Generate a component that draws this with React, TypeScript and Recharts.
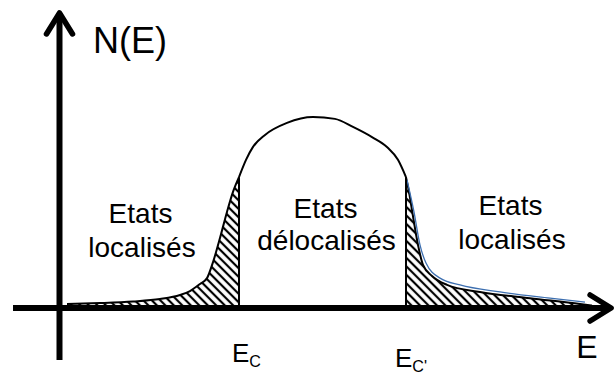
import React from "react";
import {
  ComposedChart,
  Area,
  Line,
  XAxis,
  YAxis,
  ReferenceLine,
  ReferenceDot,
} from "recharts";

// energy (arbitrary units) and density of states N(E)
const leftTailE = [1.45, 7.38, 13.32, 18.17, 21.77, 23.57, 25.37, 26.63, 27.71, 28.96, 30.22, 31.3, 32.38];
const leftTailN = [1.3, 1.6, 2.1, 2.9, 4.2, 5.5, 7.8, 9.7, 14.9, 22.7, 31.2, 37.7, 42.5];

const domeE = [32.38, 33.64, 34.9, 37.06, 41.01, 45.69, 49.64, 52.88, 56.3, 58.99, 60.97, 62.41];
const domeN = [42.5, 48.1, 52.3, 56.2, 60.1, 62.0, 61.4, 58.8, 55.5, 52.3, 48.1, 42.5];

const rightTailE = [62.41, 62.95, 63.49, 64.57, 65.47, 67.09, 69.79, 75.72, 84.71, 93.71, 95.86];
const rightTailN = [42.5, 37.7, 31.8, 20.5, 14.0, 10.4, 7.5, 5.2, 3.2, 1.3, 0.8];

// thin blue trace over the right tail
const blueE = [62.59, 63.85, 64.93, 66.01, 68.53, 72.12, 79.32, 88.31, 94.6];
const blueN = [41.6, 31.2, 20.5, 14.6, 9.7, 7.5, 5.2, 3.2, 1.9];

const EC = 32.38;
const EC_PRIME = 62.41;
const EC_TOP = 42.5;

const X_DOMAIN: [number, number] = [-10.6, 100];
const Y_DOMAIN: [number, number] = [-22.08, 100];

const zip = (es: number[], ns: number[]) => es.map((e, i) => ({ e, n: ns[i] }));

const leftTail = zip(leftTailE, leftTailN);
const dome = zip(domeE, domeN);
const rightTail = zip(rightTailE, rightTailN);
const blueTail = zip(blueE, blueN);

const FONT = "'Liberation Sans', Arial, Helvetica, sans-serif";

// region labels: [E, N at baseline, text]
const regionLabels: Array<[number, number, string]> = [
  [14.67, 27.6, "Etats"],
  [14.94, 16.6, "localisés"],
  [47.94, 29.2, "Etats"],
  [48.12, 18.8, "délocalisés"],
  [81.21, 30.2, "Etats"],
  [81.48, 19.2, "localisés"],
];

const arrowLine = (props: any) => {
  const { x1, y1, x2, y2, stroke, strokeWidth } = props;
  return (
    <line
      x1={x1}
      y1={y1}
      x2={x2}
      y2={y2}
      stroke={stroke}
      strokeWidth={strokeWidth}
      markerEnd="url(#arrowHead)"
    />
  );
};

const textShape =
  (text: string, size: number, anchor: "start" | "middle" = "middle", dx = 0, sub?: string) =>
  (props: any) => (
    <text
      x={props.cx + dx}
      y={props.cy}
      textAnchor={anchor}
      fontFamily={FONT}
      fontSize={size}
      fill="#000"
    >
      {text}
      {sub ? (
        <tspan fontSize={size * 0.62} dy={5}>
          {sub}
        </tspan>
      ) : null}
    </text>
  );

export default function App() {
  return (
    <div style={{ position: "absolute", left: 0, top: 0, background: "#fff" }}>
      <ComposedChart width={615} height={376} margin={{ top: 0, right: 0, bottom: 0, left: 0 }}>
        <defs>
          <pattern
            id="hatch"
            patternUnits="userSpaceOnUse"
            width={6}
            height={6}
            patternTransform="rotate(-45)"
          >
            <line x1={3} y1={0} x2={3} y2={6} stroke="#000" strokeWidth={2.2} />
          </pattern>
          <marker
            id="arrowHead"
            markerUnits="userSpaceOnUse"
            viewBox="-26 -17 32 34"
            markerWidth={32}
            markerHeight={34}
            refX={0}
            refY={0}
            orient="auto"
          >
            <path
              d="M-21,-13 L0,0 L-21,13"
              fill="none"
              stroke="#000"
              strokeWidth={5.5}
              strokeLinecap="round"
              strokeLinejoin="round"
            />
          </marker>
        </defs>
        <XAxis type="number" dataKey="e" domain={X_DOMAIN} allowDataOverflow hide />
        <YAxis type="number" dataKey="n" domain={Y_DOMAIN} allowDataOverflow hide />

        <Area
          data={leftTail}
          dataKey="n"
          type="monotone"
          stroke="#000"
          strokeWidth={2}
          fill="url(#hatch)"
          fillOpacity={1}
          baseValue={0}
          dot={false}
          activeDot={false}
          isAnimationActive={false}
        />
        <Area
          data={rightTail}
          dataKey="n"
          type="monotone"
          stroke="#000"
          strokeWidth={2}
          fill="url(#hatch)"
          fillOpacity={1}
          baseValue={0}
          dot={false}
          activeDot={false}
          isAnimationActive={false}
        />
        <Line
          data={blueTail}
          dataKey="n"
          type="monotone"
          stroke="#3d6fb0"
          strokeWidth={1.3}
          dot={false}
          activeDot={false}
          isAnimationActive={false}
        />
        <Line
          data={dome}
          dataKey="n"
          type="monotone"
          stroke="#000"
          strokeWidth={2}
          dot={false}
          activeDot={false}
          isAnimationActive={false}
        />

        <ReferenceLine segment={[{ x: EC, y: 0 }, { x: EC, y: EC_TOP }]} stroke="#000" strokeWidth={2} />
        <ReferenceLine
          segment={[{ x: EC_PRIME, y: 0 }, { x: EC_PRIME, y: EC_TOP }]}
          stroke="#000"
          strokeWidth={2}
        />

        {/* axes with arrow heads */}
        <ReferenceLine
          segment={[{ x: -8.26, y: 0 }, { x: 99.3, y: 0 }]}
          stroke="#000"
          strokeWidth={6}
          shape={arrowLine}
        />
        <ReferenceLine
          segment={[{ x: 0.1, y: -16.9 }, { x: 0.1, y: 95.8 }]}
          stroke="#000"
          strokeWidth={6}
          shape={arrowLine}
        />

        {regionLabels.map(([e, n, t], i) => (
          <ReferenceDot key={i} x={e} y={n} r={0} shape={textShape(t, 28)} />
        ))}
        <ReferenceDot x={6.12} y={82.8} r={0} shape={textShape("N(E)", 36, "start")} />
        <ReferenceDot x={94.96} y={-16.2} r={0} shape={textShape("E", 32)} />
        <ReferenceDot x={EC} y={-17.5} r={0} shape={textShape("E", 26, "start", -7, "C")} />
        <ReferenceDot x={EC_PRIME} y={-19.2} r={0} shape={textShape("E", 26, "start", -11, "C'")} />
      </ComposedChart>
    </div>
  );
}
